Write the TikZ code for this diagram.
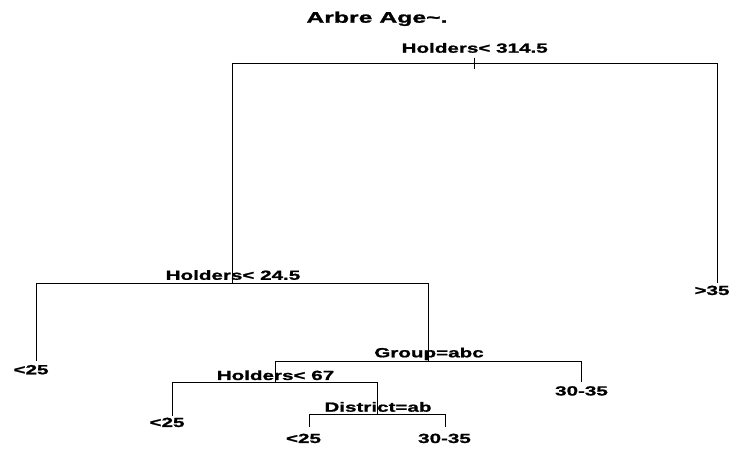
\documentclass[tikz,border=0pt]{standalone}
\usepackage{fontspec}
\setmainfont{Liberation Sans}[FakeStretch=1.55, BoldFeatures={FakeBold=1.2}]
\newfontfamily\titlefont{Liberation Sans}[FakeStretch=1.62, BoldFeatures={FakeBold=1.4}]
\begin{document}
\begin{tikzpicture}[x=1pt,y=-1pt,
  branch/.style={line width=0.9pt, line cap=rect},
  lbl/.style={font=\fontsize{13.3}{15}\selectfont\bfseries, anchor=base, inner sep=0pt},
  ttl/.style={font=\titlefont\fontsize{15.3}{18}\selectfont\bfseries, anchor=base, inner sep=0pt}]
\useasboundingbox (0,0) rectangle (740,462);

% title
\node[ttl] (title) at (377,22.7) {Arbre Age\textasciitilde.};

% tree nodes (split points and leaf ends)
\coordinate (n1)  at (474.5,63.3);
\coordinate (n1a) at (474.5,58);
\coordinate (n1b) at (474.5,69);
\coordinate (n2)  at (232.3,283.3);
\coordinate (n3)  at (717.3,282.7);
\coordinate (n4)  at (36.7,360.7);
\coordinate (n5)  at (428.3,361);
\coordinate (n10) at (275,382.7);
\coordinate (n11) at (581,382);
\coordinate (n20) at (172.7,416);
\coordinate (n21) at (377,414);
\coordinate (n42) at (309,427);
\coordinate (n43) at (445.7,427);

% branches
\draw[branch] (n1a) -- (n1b);
\draw[branch] (n1) -| (n2);
\draw[branch] (n1) -| (n3);
\draw[branch] (n2) -| (n4);
\draw[branch] (n2) -| (n5);
\draw[branch] (n5) -| (n10);
\draw[branch] (n5) -| (n11);
\draw[branch] (n10) -| (n20);
\draw[branch] (n10) -| (n21);
\draw[branch] (n21) -| (n42);
\draw[branch] (n21) -| (n43);

% split labels
\node[lbl] (s1)  at (474.7,52.7)  {Holders< 314.5};
\node[lbl] (s2)  at (233,279.8)   {Holders< 24.5};
\node[lbl] (s5)  at (429,357.3)   {Group=abc};
\node[lbl] (s10) at (275.5,380)   {Holders< 67};
\node[lbl] (s21) at (378,411.7)   {District=ab};

% leaf labels
\node[lbl] (l3)  at (712,295)     {>35};
\node[lbl] (l4)  at (31,374.3)    {<25};
\node[lbl] (l11) at (581.5,395.5) {30-35};
\node[lbl] (l20) at (167,427)     {<25};
\node[lbl] (l42) at (303.5,443)   {<25};
\node[lbl] (l43) at (444.5,443)   {30-35};
\end{tikzpicture}
\end{document}
